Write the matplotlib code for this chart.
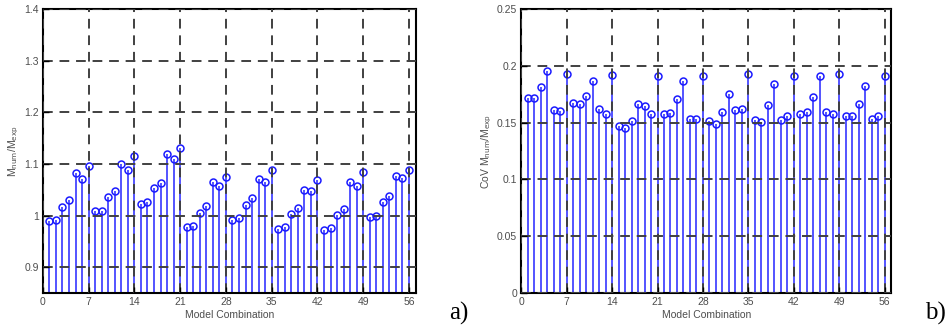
import numpy as np
import matplotlib.pyplot as plt

plt.rcParams['font.family'] = ['Liberation Sans', 'DejaVu Sans']

combos = np.arange(1, 57)

ratio = [0.990, 0.992, 1.017, 1.030, 1.082, 1.070, 1.096, 1.008, 1.009, 1.036,
         1.047, 1.100, 1.089, 1.115, 1.023, 1.027, 1.053, 1.063, 1.120, 1.109,
         1.130, 0.978, 0.979, 1.005, 1.018, 1.065, 1.058, 1.075, 0.991, 0.995,
         1.021, 1.034, 1.070, 1.065, 1.089, 0.974, 0.977, 1.003, 1.015, 1.050,
         1.047, 1.069, 0.973, 0.975, 1.001, 1.012, 1.065, 1.058, 1.084, 0.997,
         1.000, 1.027, 1.038, 1.076, 1.072, 1.089]

cov = [0.172, 0.172, 0.1815, 0.1956, 0.1615, 0.160, 0.1926, 0.1676, 0.166, 0.1735,
       0.1868, 0.1624, 0.158, 0.1915, 0.147, 0.145, 0.1515, 0.166, 0.1647, 0.1574,
       0.1906, 0.158, 0.1585, 0.171, 0.1868, 0.1535, 0.1535, 0.1906, 0.151, 0.1485,
       0.1597, 0.1756, 0.161, 0.1624, 0.1932, 0.152, 0.1506, 0.1653, 0.1838, 0.152,
       0.1559, 0.1906, 0.158, 0.1594, 0.1726, 0.1912, 0.1594, 0.158, 0.1932, 0.1556,
       0.1562, 0.1662, 0.182, 0.153, 0.1559, 0.191]

xticks = np.arange(0, 57, 7)


def stem_panel(ax, y, yticks, ylim, ylabel):
    markers, stems, base = ax.stem(combos, y, bottom=0)
    plt.setp(stems, color=(0.15, 0.15, 1.0), linewidth=1.3, alpha=0.85)
    plt.setp(markers, color=(0.1, 0.1, 1.0), markerfacecolor='none',
             markersize=5, markeredgewidth=1.1)
    base.set_visible(False)
    ax.set_xlim(0, 57)
    ax.set_ylim(*ylim)
    ax.set_xticks(xticks)
    ax.set_yticks(yticks)
    ax.grid(True, color='0.25', linestyle=(0, (5, 3.5)), linewidth=1.4, zorder=5)
    ax.set_axisbelow(False)
    ax.tick_params(direction='in', length=4, width=1, labelsize=7.5,
                   labelcolor='0.3', pad=3)
    for s in ax.spines.values():
        s.set_linewidth(1.5)
    ax.set_xlabel('Model Combination', fontsize=7.5, color='0.3', labelpad=2)
    ax.set_ylabel(ylabel, fontsize=7.5, color='0.3', labelpad=2)


fig = plt.figure(figsize=(9.53, 3.33), dpi=100)
ax1 = fig.add_axes([0.045, 0.12, 0.391, 0.853])
ax2 = fig.add_axes([0.547, 0.12, 0.388, 0.853])

stem_panel(ax1, ratio, [0.9, 1.0, 1.1, 1.2, 1.3, 1.4], (0.85, 1.4),
           r'M$_{\rm num}$/M$_{\rm exp}$')
ax1.set_yticklabels(['0.9', '1', '1.1', '1.2', '1.3', '1.4'])
stem_panel(ax2, cov, [0, 0.05, 0.1, 0.15, 0.2, 0.25], (0, 0.25),
           r'CoV M$_{\rm num}$/M$_{\rm exp}$')
ax2.set_yticklabels(['0', '0.05', '0.1', '0.15', '0.2', '0.25'])

fig.text(0.481, 0.04, 'a)', fontsize=18, family=['Liberation Serif'], ha='center')
fig.text(0.982, 0.04, 'b)', fontsize=18, family=['Liberation Serif'], ha='center')

fig.savefig('out.png', dpi=100)
